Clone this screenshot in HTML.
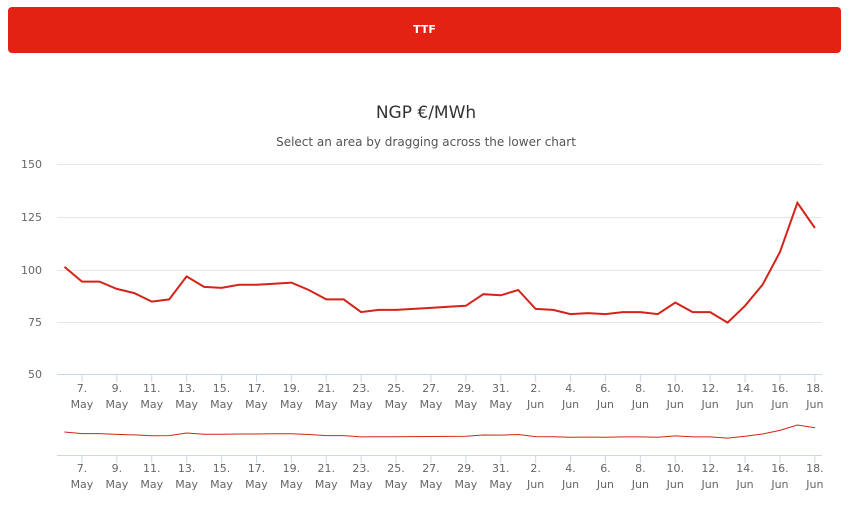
<!DOCTYPE html>
<html><head><meta charset="utf-8"><style>
body{margin:0;background:#fff;font-family:"DejaVu Sans","Liberation Sans",sans-serif;}
.bar{position:absolute;left:8px;top:7px;width:833px;height:46px;background:#e32213;border-radius:4px;color:#fff;font-size:11px;font-weight:bold;text-align:center;line-height:46px;}
</style></head><body>
<div class="bar">TTF</div>
<svg id="s" width="852" height="510" style="position:absolute;left:0;top:0" xmlns="http://www.w3.org/2000/svg"></svg>
<script>
var v=[101,94,94,90.5,88.5,84.5,85.5,96.5,91.5,91,92.5,92.5,93,93.5,90,85.5,85.5,79.5,80.5,80.5,81,81.5,82,82.5,88,87.5,90,81,80.5,78.5,79,78.5,79.5,79.5,78.5,84,79.5,79.5,74.5,82.5,92.5,108,131.5,119.5];
var o='';
o+='<text x="426" y="118" text-anchor="middle" font-size="17" fill="#333">NGP €/MWh</text>';
o+='<text x="426" y="146" text-anchor="middle" font-size="12" fill="#555">Select an area by dragging across the lower chart</text>';
var ys=[[150,164],[125,217],[100,270],[75,322],[50,374]];
ys.forEach(function(a){o+='<line x1="57" x2="822" y1="'+(a[1]+0.5)+'" y2="'+(a[1]+0.5)+'" stroke="'+(a[0]==50?'#ccd6eb':'#e6e6e6')+'"/>';
o+='<text x="42" y="'+(a[1]+4)+'" text-anchor="end" font-size="11" fill="#666">'+a[0]+'</text>';});
o+='<line x1="57" x2="822" y1="455.5" y2="455.5" stroke="#ccd6eb"/>';
function X(i){return 64.5+i*17.45;}
var p='',q='';
v.forEach(function(d,i){p+=(i?'L':'M')+X(i).toFixed(1)+' '+(374-(d-50)*2.1).toFixed(1);q+=(i?'L':'M')+X(i).toFixed(1)+' '+(432-(d-101)*0.23).toFixed(1);});
o+='<path d="'+p+'" fill="none" stroke="#d32419" stroke-width="2"/>';
o+='<path d="'+q+'" fill="none" stroke="#d32419" stroke-width="1"/>';
for(var i=1;i<44;i+=2){var x=X(i),day,mo;if(i<26){day=6+i;mo='May';}else{day=i-25;mo='Jun';}
[[374,392,408],[455,472,488]].forEach(function(b){o+='<line x1="'+x+'" x2="'+x+'" y1="'+b[0]+'" y2="'+(b[0]+8)+'" stroke="#ccd6eb"/>';
o+='<text x="'+x+'" y="'+b[1]+'" text-anchor="middle" font-size="11" fill="#666">'+day+'.</text><text x="'+x+'" y="'+b[2]+'" text-anchor="middle" font-size="11" fill="#666">'+mo+'</text>';});}
document.getElementById('s').innerHTML=o;
</script>
</body></html>
